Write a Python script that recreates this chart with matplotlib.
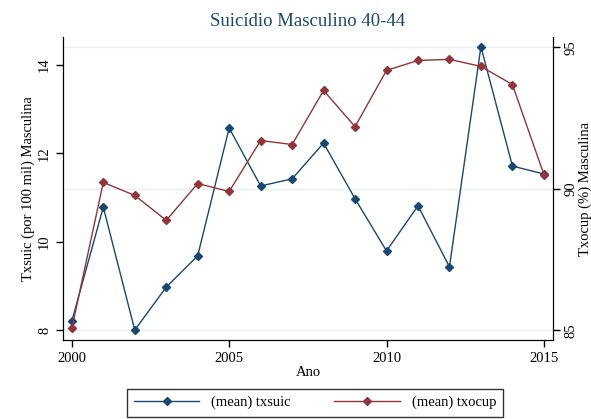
import matplotlib
matplotlib.use('Agg')
import matplotlib.pyplot as plt
from matplotlib.lines import Line2D

plt.rcParams['font.family'] = ['Liberation Serif', 'DejaVu Serif']

ano = [2000, 2001, 2002, 2003, 2004, 2005, 2006, 2007,
       2008, 2009, 2010, 2011, 2012, 2013, 2014, 2015]
txsuic = [8.20, 10.78, 8.00, 8.97, 9.68, 12.57, 11.26, 11.42,
          12.23, 10.97, 9.79, 10.81, 9.43, 14.41, 11.71, 11.53]
txocup = [85.07, 90.23, 89.77, 88.89, 90.19, 89.91, 91.71, 91.57,
          93.48, 92.20, 94.19, 94.54, 94.58, 94.33, 93.69, 90.51]

azul = '#1a476f'
verm = '#90353b'

fig = plt.figure(figsize=(5.91, 4.19), dpi=100)
ax = fig.add_axes([0.1066, 0.1885, 0.8291, 0.7232])
ax2 = ax.twinx()

ax.set_xlim(1999.72, 2015.29)
ax.set_ylim(7.774, 14.63)
ax2.set_ylim(84.66, 95.37)

# linhas de grade do eixo da direita, desenhadas no eixo de baixo
y0, y1 = ax.get_ylim()
z0, z1 = ax2.get_ylim()
for v in [85, 90, 95]:
    ax.axhline(y0 + (v - z0) / (z1 - z0) * (y1 - y0), color='#e8f0f2', lw=1, zorder=0)

ax.plot(ano, txsuic, color=azul, lw=1, marker='D', ms=4.5, zorder=3)
ax2.plot(ano, txocup, color=verm, lw=1, marker='D', ms=4.5, zorder=3)

ax.set_xticks([2000, 2005, 2010, 2015])
ax.set_yticks([8, 10, 12, 14])
ax2.set_yticks([85, 90, 95])

for a in (ax, ax2):
    a.spines['top'].set_visible(False)
    a.tick_params(direction='out', length=5, width=1, labelsize=10.5, colors='black')
ax.tick_params(axis='y', labelrotation=90)
ax2.tick_params(axis='y', labelrotation=90)
for lab in ax.get_yticklabels() + ax2.get_yticklabels():
    lab.set_va('center')

ax.set_xlabel('Ano', fontsize=10.5, labelpad=1)
ax.set_ylabel('Txsuic (por 100 mil) Masculina', fontsize=10.5, labelpad=2)
ax2.set_ylabel('Txocup (%) Masculina', fontsize=10.5, rotation=90, va='center')
ax2.yaxis.set_label_coords(1.066, 0.5)
ax.set_title('Suicídio Masculino 40-44', fontsize=13.5, color=azul, pad=8)

handles = [Line2D([], [], color=azul, lw=1, marker='D', ms=4.5),
           Line2D([], [], color=verm, lw=1, marker='D', ms=4.5)]
leg = fig.legend(handles, ['(mean) txsuic', '(mean) txocup'], loc='lower center',
                 bbox_to_anchor=(0.533, -0.012), ncol=2, fontsize=10.5, frameon=True,
                 fancybox=False, edgecolor='black', handlelength=4.5, columnspacing=3,
                 borderpad=0.5)
leg.get_frame().set_linewidth(1)

fig.savefig('out.png', dpi=100)
